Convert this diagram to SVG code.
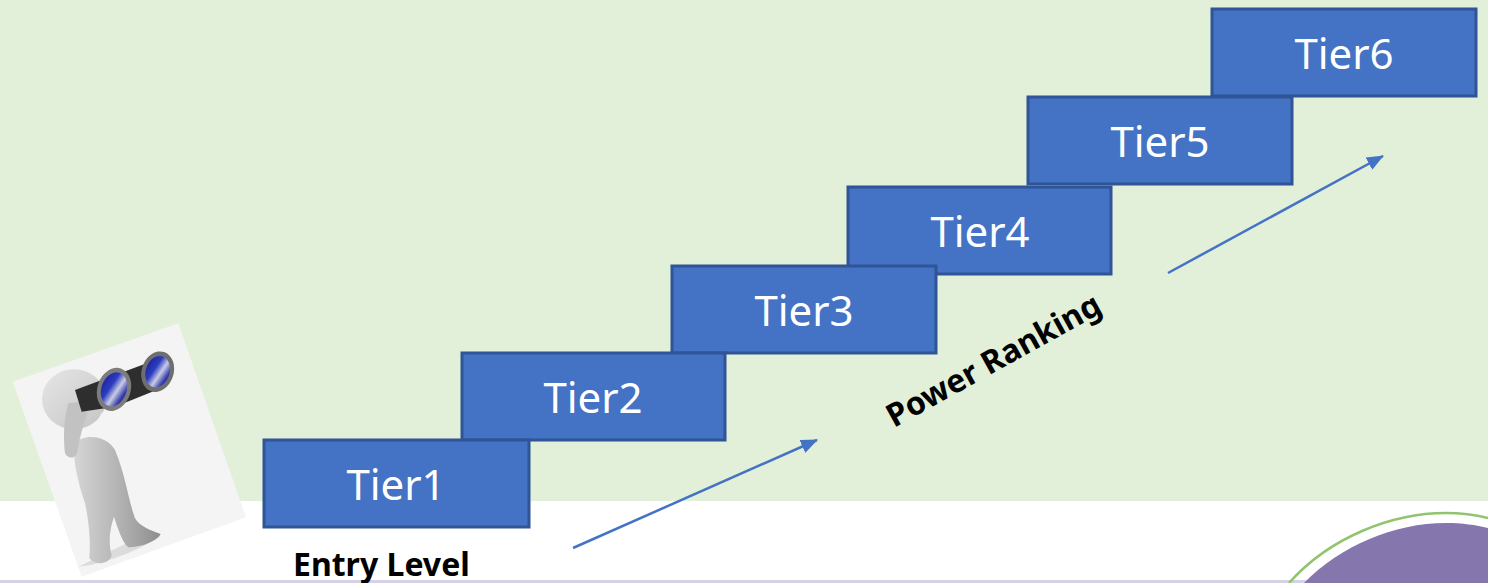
<svg xmlns="http://www.w3.org/2000/svg" width="1488" height="583" viewBox="0 0 1488 583">
  <style>
    .tier rect { fill: #4472c4; stroke: #2f5597; stroke-width: 3; }
    .tier text { fill: #ffffff; font-family: "Noto Sans", "Open Sans", sans-serif; font-size: 42px; text-anchor: middle; }
    .caption { fill: #000000; font-family: "Noto Sans", "Open Sans", sans-serif; font-weight: 700; font-size: 32px; }
    .flow { stroke: #4472c4; stroke-width: 2.5; fill: none; marker-end: url(#arrow); }
  </style>
  <defs>
    <marker id="arrow" markerUnits="userSpaceOnUse" markerWidth="18" markerHeight="16" refX="16" refY="7" orient="auto">
      <path d="M0 0L17 7L0 14Z" fill="#4472c4"/>
    </marker>
    <linearGradient id="skin" x1="0" y1="0" x2="1" y2="0">
      <stop offset="0" stop-color="#d6d6d6"/>
      <stop offset="0.5" stop-color="#b4b4b4"/>
      <stop offset="1" stop-color="#8e8e8e"/>
    </linearGradient>
    <linearGradient id="head" x1="0" y1="0" x2="1" y2="1">
      <stop offset="0" stop-color="#e6e6e6"/>
      <stop offset="1" stop-color="#c4c4c4"/>
    </linearGradient>
    <linearGradient id="lens" x1="0" y1="0" x2="1" y2="0.4">
      <stop offset="0" stop-color="#1c1f9c"/>
      <stop offset="0.45" stop-color="#2c3cc0"/>
      <stop offset="0.72" stop-color="#c8cce4"/>
      <stop offset="1" stop-color="#3038a8"/>
    </linearGradient>
    <filter id="soft" x="-5%" y="-5%" width="110%" height="110%">
      <feGaussianBlur stdDeviation="2.2"/>
    </filter>
  </defs>

  <!-- slide background -->
  <rect x="0" y="0" width="1488" height="501" fill="#e2efd9"/>
  <rect x="0" y="501" width="1488" height="82" fill="#ffffff"/>
  <rect x="0" y="580" width="1488" height="3" fill="#d4d2e4"/>

  <!-- corner emblem -->
  <g id="emblem">
    <path d="M1304 583C1340 546 1394 523 1446 523C1462 523 1476 525 1488 528V583Z" fill="#8577ad"/>
    <path d="M1289 583C1330 537 1392 513 1446 513C1462 513 1476 515 1488 518" fill="none" stroke="#92c46f" stroke-width="2.5"/>
  </g>

  <!-- figure looking through binoculars, drawn in a 3x local grid -->
  <g id="lookout" transform="translate(0 310) scale(0.33333)">
    <path d="M38 215L535 40L738 622L245 800Z" fill="#f4f4f4"/>
    <g filter="url(#soft)">
      <path d="M235 770C300 765 410 725 480 680L440 665L380 700Z" fill="#dcdcdc"/>
      <ellipse cx="222" cy="268" rx="96" ry="90" fill="url(#head)"/>
      <path d="M225 400C215 440 235 520 255 580C268 640 272 700 268 745C290 770 330 760 335 735C325 700 328 660 342 620C352 650 365 695 385 712C420 712 470 695 482 672C450 660 420 650 405 625C385 570 375 490 345 420C320 375 250 370 225 400Z" fill="url(#skin)"/>
      <path d="M205 280C190 330 190 390 195 430C205 450 230 445 232 425C238 385 250 345 262 310L240 275Z" fill="#c2c2c2"/>
      <path d="M275 360C295 350 305 330 305 305L290 345Z" fill="#f4f4f4"/>
      <path d="M225 240L440 160L470 240L345 290L245 305Z" fill="#2e2e2e"/>
      <ellipse cx="342" cy="238" rx="50" ry="66" transform="rotate(18 342 238)" fill="#7c7c7c"/>
      <ellipse cx="342" cy="238" rx="38" ry="52" transform="rotate(18 342 238)" fill="url(#lens)"/>
      <ellipse cx="473" cy="185" rx="48" ry="62" transform="rotate(18 473 185)" fill="#6e6e6e"/>
      <ellipse cx="473" cy="185" rx="36" ry="48" transform="rotate(18 473 185)" fill="url(#lens)"/>
    </g>
  </g>

  <!-- connectors -->
  <g id="connectors">
    <line class="flow" x1="573" y1="548" x2="817" y2="440"/>
    <line class="flow" x1="1168" y1="273" x2="1383" y2="156"/>
  </g>

  <!-- tiers, lowest first -->
  <g id="tier6" class="tier"><rect x="1212" y="9" width="264" height="87"/><text x="1344" y="69">Tier6</text></g>
  <g id="tier5" class="tier"><rect x="1028" y="97" width="264" height="87"/><text x="1160" y="157">Tier5</text></g>
  <g id="tier4" class="tier"><rect x="848" y="187" width="263" height="87"/><text x="980" y="247">Tier4</text></g>
  <g id="tier3" class="tier"><rect x="672" y="266" width="264" height="87"/><text x="804" y="326">Tier3</text></g>
  <g id="tier2" class="tier"><rect x="462" y="353" width="263" height="87"/><text x="593" y="413">Tier2</text></g>
  <g id="tier1" class="tier"><rect x="264" y="440" width="265" height="87"/><text x="396" y="500">Tier1</text></g>

  <!-- captions -->
  <g id="entry-level"><text class="caption" x="293" y="576">Entry Level</text></g>
  <g id="power-ranking"><text class="caption" transform="translate(894 428) rotate(-29)">Power Ranking</text></g>
</svg>
